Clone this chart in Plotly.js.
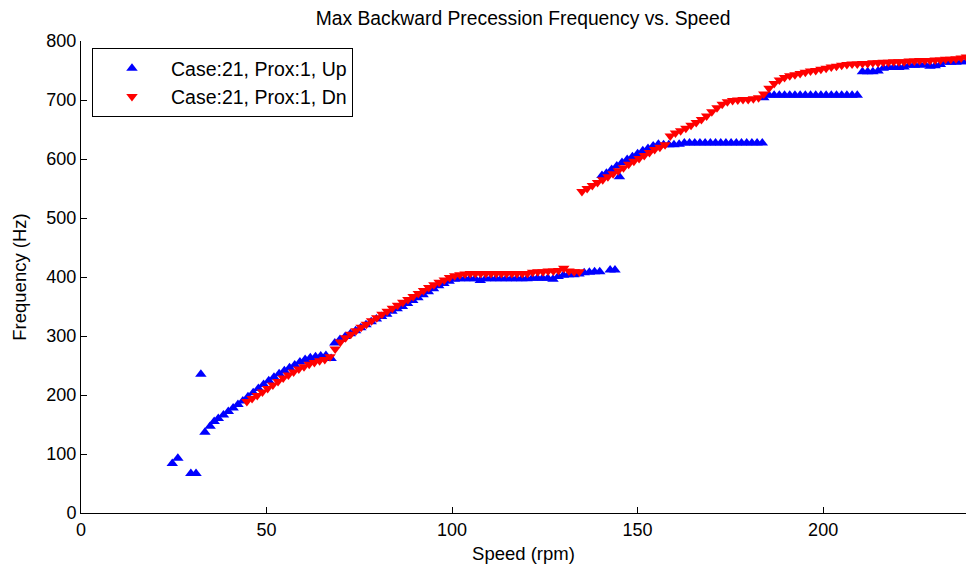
<!DOCTYPE html>
<html>
<head>
<meta charset="utf-8">
<script src="https://cdn.plot.ly/plotly-3.0.1.min.js"></script>
<style>html,body{margin:0;padding:0;background:#fff;}#chart{width:966px;height:567px;}</style>
</head>
<body>
<div id="chart"></div>
<script>
// Case:21, Prox:1, Up (blue up-triangles)
const upSpeed = [
  24.6, 26.1, 29.6, 31.0, 32.3,
  33.4, 34.8, 35.9, 37.0, 38.4, 39.7, 41.0, 42.3, 43.6, 45.0, 46.4, 47.8, 49.2, 50.6, 52.0,
  53.4, 54.8, 56.2, 57.6, 59.0, 60.4, 61.8, 63.2, 64.6, 66.0, 67.4, 68.4, 69.8, 71.2, 72.6,
  74.0, 75.4, 76.8, 78.2, 79.6, 81.0, 82.4, 83.8, 85.2, 86.6, 88.0, 89.4, 90.8, 92.2, 93.6,
  95.0, 96.4, 97.8, 99.2, 100.6, 102.0, 103.4, 104.8, 106.2, 107.6, 109.0, 110.4, 111.8, 113.2,
  114.6, 116.0, 117.4, 118.8, 120.2, 121.6, 123.0, 124.4, 125.8, 127.2, 128.6, 130.0, 131.4,
  132.8, 134.2, 135.6, 137.0, 138.4, 139.8, 142.6, 143.9,
  140.4, 141.6, 143.0, 144.4, 145.1, 145.8, 147.2, 148.6, 150.0, 151.4, 152.8, 154.2, 155.6,
  157.0, 158.4, 159.8, 161.2, 162.6, 164.0, 165.4, 166.8, 168.2, 169.6, 171.0, 172.4, 173.8,
  175.2, 176.6, 178.0, 179.4, 180.8, 182.2, 183.6,
  184.0, 185.4, 186.8, 188.2, 189.6, 191.0, 192.4, 193.8, 195.2, 196.6, 198.0, 199.4, 200.8,
  202.2, 203.6, 205.0, 206.4, 207.8, 209.2,
  210.6, 212.0, 213.4, 214.8, 216.2, 217.6, 219.0, 220.4, 221.8, 223.2, 224.6, 226.0, 227.4,
  228.8, 230.2, 231.6, 233.0, 234.4, 235.8, 237.2, 238.6
];
const upFreq = [
  84, 93, 67, 67, 235,
  137, 147, 155, 160, 166, 172, 178, 184, 190, 197, 204, 211, 218, 224, 230,
  236, 241, 246, 251, 256, 260, 263, 265, 266, 267, 262, 288, 294, 299, 304,
  309, 314, 319, 324, 329, 333, 337, 342, 346, 350, 355, 360, 365, 370, 375,
  380, 385, 389, 393, 396, 397, 397, 397, 397, 394, 397, 397, 397, 397,
  397, 397, 397, 397, 397, 398, 398, 398, 398, 396, 401, 403, 404,
  404, 405, 407, 408, 409, 409, 412, 412,
  572, 576, 582, 588, 570, 594, 599, 604, 609, 614, 618, 622, 625,
  624, 624, 624, 625, 627, 627, 627, 627, 627, 627, 627, 627, 627,
  627, 627, 627, 627, 627, 627, 627,
  704, 708, 708, 708, 708, 708, 708, 708, 708, 708, 708, 708, 708,
  708, 708, 708, 708, 708, 708,
  748, 748, 748, 749, 754, 755, 755, 755, 756, 759, 759, 759, 760,
  757, 758, 760, 764, 764, 764, 765, 765
];

// Case:21, Prox:1, Dn (red down-triangles)
const dnSpeed = [
  44.7, 46.1, 47.5, 48.9, 50.3, 51.7, 53.1, 54.5, 55.9, 57.3, 58.7, 60.1, 61.5, 62.9, 64.3,
  65.7, 67.1, 68.5, 69.9, 71.3, 72.7, 74.1, 75.5, 76.9, 78.3, 79.7, 81.1, 82.5, 83.9, 85.3,
  86.7, 88.1, 89.5, 90.9, 92.3, 93.7, 95.1, 96.5, 97.9, 99.3, 100.7, 102.1, 103.5, 104.9,
  106.3, 107.7, 109.1, 110.5, 111.9, 113.3, 114.7, 116.1, 117.5, 118.9, 120.3, 121.7, 123.1,
  124.5, 125.9, 127.3, 128.7, 130.1, 131.5, 132.9, 134.3,
  135.0, 136.4, 137.8, 139.2, 140.6, 142.0, 143.4, 144.8, 146.2, 147.6, 149.0, 150.4, 151.8,
  153.2, 154.6, 156.0, 157.4, 158.8, 160.2, 161.6, 163.0, 164.4, 165.8, 167.2, 168.6, 170.0,
  171.4, 172.8, 174.2, 175.6, 177.0, 178.4, 179.8, 181.2, 182.6, 184.0, 185.4, 186.8, 188.2,
  189.6, 191.0, 192.4, 193.8, 195.2, 196.6, 198.0, 199.4, 200.8, 202.2, 203.6, 205.0, 206.4,
  207.8, 209.2, 210.6, 212.0, 213.4, 214.8, 216.2, 217.6, 219.0, 220.4, 221.8, 223.2, 224.6,
  226.0, 227.4, 228.8, 230.2, 231.6, 233.0, 234.4, 235.8, 237.2, 238.6
];
const dnFreq = [
  189, 194, 199, 205, 211, 217, 223, 229, 234, 239, 244, 248, 252, 255, 258,
  260, 265, 278, 290, 297, 303, 309, 315, 320, 326, 331, 337, 342, 347, 352,
  357, 362, 367, 372, 377, 382, 387, 391, 395, 399, 402, 404, 405, 406,
  406, 406, 406, 406, 406, 406, 406, 406, 406, 406, 406, 408, 409,
  409, 410, 410, 411, 415, 410, 409, 409,
  545, 550, 555, 560, 565, 570, 575, 580, 585, 591, 596, 601, 606,
  611, 616, 620, 624, 639, 644, 648, 652, 657, 662, 667, 673, 680,
  687, 693, 697, 699, 700, 701, 701, 702, 704, 710, 720, 728, 734,
  738, 741, 743, 745, 747, 749, 750, 752, 754, 756, 757, 759, 760,
  761, 761, 762, 762, 763, 763, 764, 764, 765, 765, 765, 766, 766,
  767, 767, 767, 768, 768, 769, 769, 770, 771, 773
];

const xTicks = [0, 50, 100, 150, 200];
const yTicks = [0, 100, 200, 300, 400, 500, 600, 700, 800];

const FONT = 'Liberation Sans, Arial, sans-serif';

const traces = [
  {
    x: upSpeed, y: upFreq, type: 'scatter', mode: 'markers',
    name: 'Case:21, Prox:1, Up', legendgroup: 'up',
    marker: {symbol: 'triangle-up', size: 10, color: '#0000ff', line: {width: 0}}
  },
  {
    x: dnSpeed, y: dnFreq, type: 'scatter', mode: 'markers',
    name: 'Case:21, Prox:1, Dn', legendgroup: 'dn',
    marker: {symbol: 'triangle-down', size: 10, color: '#ff0000', line: {width: 0}}
  }
];

const axisCommon = {
  showline: true, linecolor: '#000', linewidth: 1,
  ticks: 'inside', ticklen: 6, tickcolor: '#000', tickwidth: 1,
  showgrid: false, zeroline: false, mirror: false,
  tickfont: {family: FONT, size: 18, color: '#000'}
};

const layout = {
  width: 966, height: 567,
  margin: {l: 81, r: 0, t: 41, b: 54, pad: 0},
  paper_bgcolor: '#fff', plot_bgcolor: '#fff',
  font: {family: FONT, size: 18, color: '#000'},
  title: {
    text: 'Max Backward Precession Frequency vs. Speed',
    font: {family: FONT, size: 19.3, color: '#000'},
    x: 0.5415, xanchor: 'center', xref: 'container',
    y: 0.968, yanchor: 'middle', yref: 'container'
  },
  xaxis: Object.assign({}, axisCommon, {
    range: [0, 238.5], tickvals: xTicks, ticktext: xTicks.map(String),
    title: {text: 'Speed (rpm)', font: {family: FONT, size: 18.5, color: '#000'}, standoff: 8}
  }),
  yaxis: Object.assign({}, axisCommon, {
    range: [0, 800], tickvals: yTicks, ticktext: yTicks.map(String),
    title: {text: 'Frequency (Hz)', font: {family: FONT, size: 18.5, color: '#000'}, standoff: 14}
  }),
  showlegend: true,
  legend: {
    x: 0.0124, y: 0.985, xanchor: 'left', yanchor: 'top',
    bgcolor: '#fff', bordercolor: '#000', borderwidth: 1,
    font: {family: FONT, size: 19.5, color: '#000'},
    itemwidth: 68, tracegroupgap: 0, itemsizing: 'trace'
  }
};

Plotly.newPlot('chart', traces, layout, {displayModeBar: false, staticPlot: true});
</script>
</body>
</html>
